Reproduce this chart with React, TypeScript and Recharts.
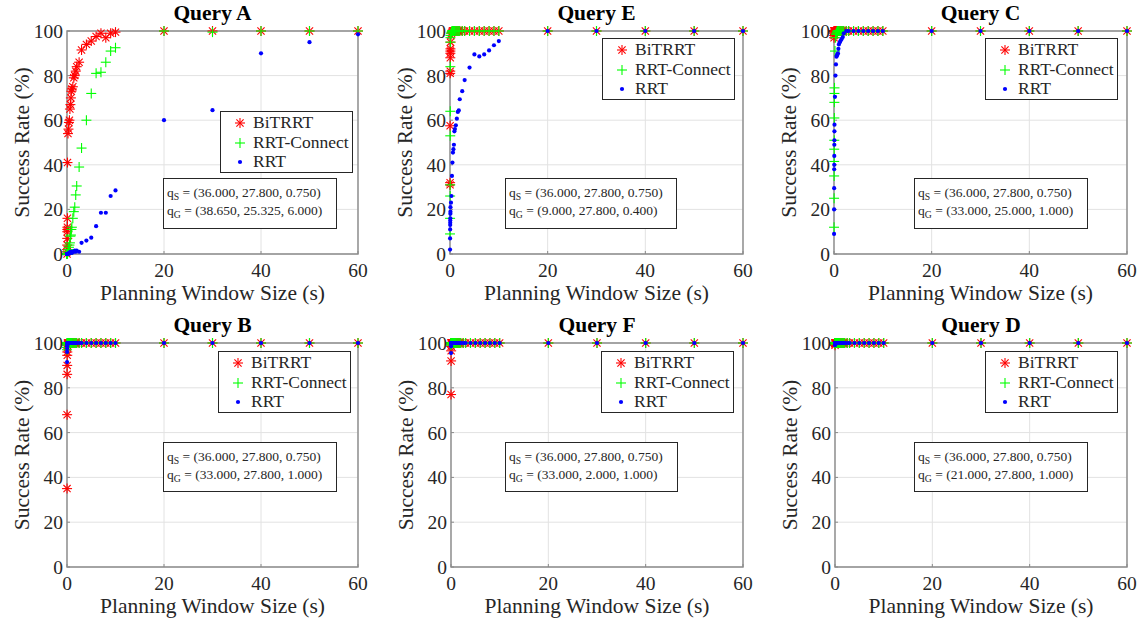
import React from 'react';
import { ScatterChart, Scatter, XAxis, YAxis, CartesianGrid, ReferenceArea, Legend } from 'recharts';

// ---------- data ----------
const windowSizes = [
  0.01, 0.02, 0.03, 0.04, 0.05, 0.06, 0.07, 0.08, 0.09,
  0.1, 0.2, 0.3, 0.4, 0.5, 0.6, 0.7, 0.8, 0.9, 1.0,
  1.2, 1.4, 1.6, 1.8, 2.0, 2.5,
  3, 4, 5, 6, 7, 8, 9, 10,
  20, 30, 40, 50, 60,
];
const xTicks = [0, 20, 40, 60];
const yTicks = [0, 20, 40, 60, 80, 100];
const seriesNames = ['BiTRRT', 'RRT-Connect', 'RRT'];
const startConfig = '(36.000, 27.800, 0.750)';

const queryA_BiTRRT = [0, 1, 2, 4, 7, 10, 11, 12, 16, 41, 54, 56, 59, 60, 65, 67, 70, 73, 74, 75, 79, 80, 82, 84, 86, 91.5, 94, 95.5, 97.5, 99, 97, 99, 99.5, 100, 100, 100, 100, 100];
const queryA_RRTConnect = [0, 0, 0, 0, 0, 0, 0, 0, 0, 0, 1, 2, 3, 4, 5, 8, 8.5, 11, 12, 16, 19, 21, 26.5, 30.5, 39, 47.5, 60, 72, 81, 81.5, 86, 91, 92.5, 100, 99.5, 100, 100, 100];
const queryA_RRT = [0, 0, 0, 0, 0, 0, 0, 0, 0, 0, 0, 0, 0.5, 0.5, 0.5, 1, 1, 1, 0.5, 1, 1, 1.5, 1, 1.5, 1, 5, 6, 7.3, 12.5, 18.5, 18.5, 26, 28.5, 60, 64.5, 90, 95, 98.5];

const queryE_BiTRRT = [31, 32, 57.5, 81, 82, 88, 90, 91, 92, 95, 98, 99, 99.5, 100, 100, 100, 100, 100, 100, 100, 100, 100, 100, 100, 100, 100, 100, 100, 100, 100, 100, 100, 100, 100, 100, 100, 100, 100];
const queryE_RRTConnect = [9, 16, 26, 31, 53, 64, 84, 95, 97, 98, 99, 99.5, 100, 100, 100, 100, 100, 100, 100, 100, 100, 100, 100, 100, 100, 100, 100, 100, 100, 100, 100, 100, 100, 100, 100, 100, 100, 100];
const queryE_RRT = [2, 7, 11, 13, 14, 15, 16, 18, 19, 21, 23, 26, 35, 41, 45.5, 47, 49, 55, 56, 57.7, 60.7, 63.7, 64.4, 69.4, 73, 78, 83.6, 89.5, 88.6, 89.5, 91.3, 93.6, 95.5, 100, 100, 100, 100, 100];

const queryC_BiTRRT = [97, 98, 99, 99.5, 100, 100, 100, 100, 100, 100, 100, 100, 100, 100, 100, 100, 100, 100, 100, 100, 100, 100, 100, 100, 100, 100, 100, 100, 100, 100, 100, 100, 100, 100, 100, 100, 100, 100];
const queryC_RRTConnect = [12, 25, 35, 41.5, 47, 51, 61, 68, 72, 74.5, 91, 97, 98.5, 99, 99.5, 100, 100, 100, 100, 100, 100, 100, 100, 100, 100, 100, 100, 100, 100, 100, 100, 100, 100, 100, 100, 100, 100, 100];
const queryC_RRT = [9, 20, 29.5, 38, 40, 44, 49, 51, 55, 58, 70.5, 80, 85, 88.5, 89, 89.5, 90, 92, 94, 95, 95.8, 96.5, 97.3, 99, 100, 100, 100, 100, 100, 100, 100, 100, 100, 100, 100, 100, 100, 100];

const queryB_BiTRRT = [35, 68, 86, 90, 94.5, 96, 98, 99, 99.5, 100, 100, 100, 100, 100, 100, 100, 100, 100, 100, 100, 100, 100, 100, 100, 100, 100, 100, 100, 100, 100, 100, 100, 100, 100, 100, 100, 100, 100];
const queryB_RRTConnect = [97, 98, 99, 99.5, 100, 100, 100, 100, 100, 100, 100, 100, 100, 100, 100, 100, 100, 100, 100, 100, 100, 100, 100, 100, 100, 100, 100, 100, 100, 100, 100, 100, 100, 100, 100, 100, 100, 100];
const queryB_RRT = [91.5, 96, 97.5, 98.5, 99, 99.5, 100, 100, 100, 100, 100, 100, 100, 100, 100, 100, 100, 100, 100, 100, 100, 100, 100, 100, 100, 100, 100, 100, 100, 100, 100, 100, 100, 100, 100, 100, 100, 100];

const queryF_BiTRRT = [77, 92, 96.5, 98.5, 99.5, 100, 100, 100, 100, 100, 100, 100, 100, 100, 100, 100, 100, 100, 100, 100, 100, 100, 100, 100, 100, 100, 100, 100, 100, 100, 100, 100, 100, 100, 100, 100, 100, 100];
const queryF_RRTConnect = [99, 99.5, 100, 100, 100, 100, 100, 100, 100, 100, 100, 100, 100, 100, 100, 100, 100, 100, 100, 100, 100, 100, 100, 100, 100, 100, 100, 100, 100, 100, 100, 100, 100, 100, 100, 100, 100, 100];
const queryF_RRT = [95.5, 98.5, 99.5, 100, 100, 100, 100, 100, 100, 100, 100, 100, 100, 100, 100, 100, 100, 100, 100, 100, 100, 100, 100, 100, 100, 100, 100, 100, 100, 100, 100, 100, 100, 100, 100, 100, 100, 100];

const queryD_BiTRRT = [99, 99.5, 100, 100, 100, 100, 100, 100, 100, 100, 100, 100, 100, 100, 100, 100, 100, 100, 100, 100, 100, 100, 100, 100, 100, 100, 100, 100, 100, 100, 100, 100, 100, 100, 100, 100, 100, 100];
const queryD_RRTConnect = [99.5, 100, 100, 100, 100, 100, 100, 100, 100, 100, 100, 100, 100, 100, 100, 100, 100, 100, 100, 100, 100, 100, 100, 100, 100, 100, 100, 100, 100, 100, 100, 100, 100, 100, 100, 100, 100, 100];
const queryD_RRT = [99, 99.5, 100, 100, 100, 100, 100, 100, 100, 100, 100, 100, 100, 100, 100, 100, 100, 100, 100, 100, 100, 100, 100, 100, 100, 100, 100, 100, 100, 100, 100, 100, 100, 100, 100, 100, 100, 100];

// ---------- layout / style ----------
const FONT = "'Liberation Serif', 'Times New Roman', serif";
const TEXT = '#262626';
const BOX = '#8a8a8a';
const GRID = '#e2e2e2';
const RED = '#ff0000';
const GREEN = '#00ff00';
const BLUE = '#0000ff';
const PAD_L = 70;
const PAD_T = 31;

const panels = [
  { title: 'Query A', goal: '(38.650, 25.325, 6.000)', plot: { x: 67, y: 31, w: 291, h: 223 }, legend: { x: 153, y: 80 }, note: { x: 96, y: 147, w: 174, h: 51 }, series: [queryA_BiTRRT, queryA_RRTConnect, queryA_RRT] },
  { title: 'Query E', goal: '(9.000, 27.800, 0.400)', plot: { x: 450, y: 31, w: 293, h: 223 }, legend: { x: 152, y: 7 }, note: { x: 55, y: 147, w: 172, h: 51 }, series: [queryE_BiTRRT, queryE_RRTConnect, queryE_RRT] },
  { title: 'Query C', goal: '(33.000, 25.000, 1.000)', plot: { x: 834, y: 31, w: 293, h: 223 }, legend: { x: 151, y: 7 }, note: { x: 80, y: 147, w: 174, h: 51 }, series: [queryC_BiTRRT, queryC_RRTConnect, queryC_RRT] },
  { title: 'Query B', goal: '(33.000, 27.800, 1.000)', plot: { x: 67, y: 343, w: 291, h: 224 }, legend: { x: 151, y: 8 }, note: { x: 96, y: 99, w: 174, h: 50 }, series: [queryB_BiTRRT, queryB_RRTConnect, queryB_RRT] },
  { title: 'Query F', goal: '(33.000, 2.000, 1.000)', plot: { x: 451, y: 343, w: 292, h: 224 }, legend: { x: 150, y: 8 }, note: { x: 54, y: 99, w: 173, h: 50 }, series: [queryF_BiTRRT, queryF_RRTConnect, queryF_RRT] },
  { title: 'Query D', goal: '(21.000, 27.800, 1.000)', plot: { x: 835, y: 343, w: 292, h: 224 }, legend: { x: 150, y: 8 }, note: { x: 79, y: 99, w: 174, h: 50 }, series: [queryD_BiTRRT, queryD_RRTConnect, queryD_RRT] },
];

// ---------- markers ----------
const Asterisk = (props: any) => {
  const { cx, cy } = props;
  if (cx == null || cy == null) return <g />;
  const r = 5;
  const d = r * 0.72;
  return (
    <g stroke={RED} strokeWidth={1.1}>
      <line x1={cx - r} y1={cy} x2={cx + r} y2={cy} />
      <line x1={cx} y1={cy - r} x2={cx} y2={cy + r} />
      <line x1={cx - d} y1={cy - d} x2={cx + d} y2={cy + d} />
      <line x1={cx - d} y1={cy + d} x2={cx + d} y2={cy - d} />
    </g>
  );
};
const Plus = (props: any) => {
  const { cx, cy } = props;
  if (cx == null || cy == null) return <g />;
  const r = 5;
  return (
    <g stroke={GREEN} strokeWidth={1.1}>
      <line x1={cx - r} y1={cy} x2={cx + r} y2={cy} />
      <line x1={cx} y1={cy - r} x2={cx} y2={cy + r} />
    </g>
  );
};
const Dot = (props: any) => {
  const { cx, cy } = props;
  if (cx == null || cy == null) return <g />;
  return <circle cx={cx} cy={cy} r={2.1} fill={BLUE} />;
};
const markerShapes = [Asterisk, Plus, Dot];

const LegendBox = () => (
  <div style={{ position: 'relative', width: 133, height: 62, border: `1px solid ${TEXT}`, background: '#fff', boxSizing: 'border-box', fontFamily: FONT }}>
    {seriesNames.map((name, i) => {
      const Shape = markerShapes[i];
      const cy = 12 + i * 19.5;
      return (
        <div key={name} style={{ position: 'absolute', left: 0, top: cy - 10.75, height: 19.5, width: 133 }}>
          <svg width={14} height={14} style={{ position: 'absolute', left: 12, top: 2.75 }}>
            <Shape cx={7} cy={7} />
          </svg>
          <span style={{ position: 'absolute', left: 32, top: 0, lineHeight: '19.5px', fontSize: 17.5, color: TEXT, whiteSpace: 'nowrap', fontFamily: FONT }}>{name}</span>
        </div>
      );
    })}
  </div>
);

const NoteBox = ({ goal, note }: any) => {
  const sub = { fontSize: '0.72em', position: 'relative' as const, top: '0.32em' };
  return (
    <div style={{ position: 'absolute', left: PAD_L + note.x, top: PAD_T + note.y, width: note.w, height: note.h, border: `1px solid ${TEXT}`, background: '#fff', boxSizing: 'border-box', fontFamily: FONT, fontSize: 13.5, color: TEXT }}>
      <div style={{ position: 'absolute', left: 3, top: 6.5, lineHeight: '13.5px', whiteSpace: 'nowrap' }}>
        q<span style={sub}>S</span> = {startConfig}
      </div>
      <div style={{ position: 'absolute', left: 3, top: 25, lineHeight: '13.5px', whiteSpace: 'nowrap' }}>
        q<span style={sub}>G</span> = {goal}
      </div>
    </div>
  );
};

const Panel = ({ cfg }: any) => {
  const { plot } = cfg;
  const width = plot.w + PAD_L + 10;
  const height = plot.h + PAD_T + 54;
  const seriesData = cfg.series.map((ys: number[]) => windowSizes.map((x, i) => ({ x, y: ys[i] })));
  const tickStyle = { fontSize: 19.5, fill: TEXT, fontFamily: FONT };
  return (
    <div style={{ position: 'absolute', left: plot.x - PAD_L, top: plot.y - PAD_T, width, height }}>
      <ScatterChart width={width} height={height} margin={{ top: PAD_T, right: 10, bottom: 4, left: 10 }}>
        <CartesianGrid stroke={GRID} strokeWidth={1} />
        <XAxis
          type="number" dataKey="x" domain={[0, 60]} ticks={xTicks} interval={0}
          axisLine={false} tickLine={{ stroke: BOX }} tickSize={-3} tickMargin={12}
          tick={tickStyle} height={50}
          label={{ value: 'Planning Window Size (s)', position: 'insideBottom', offset: 4, style: { fontSize: 21.5, fill: TEXT, fontFamily: FONT } }}
        />
        <YAxis
          type="number" dataKey="y" domain={[0, 100]} ticks={yTicks} interval={0}
          axisLine={false} tickLine={{ stroke: BOX }} tickSize={-3} tickMargin={7}
          tick={tickStyle} width={60}
          label={{ value: 'Success Rate (%)', angle: -90, position: 'insideLeft', offset: 14, style: { textAnchor: 'middle', fontSize: 21.5, fill: TEXT, fontFamily: FONT } }}
        />
        <ReferenceArea x1={0} x2={60} y1={0} y2={100} fill="none" fillOpacity={0} stroke={BOX} strokeWidth={1.4} ifOverflow="visible" />
        {seriesNames.map((name, i) => (
          <Scatter key={name} name={name} data={seriesData[i]} shape={markerShapes[i]} isAnimationActive={false} fill={[RED, GREEN, BLUE][i]} />
        ))}
        <Legend
          layout="horizontal" verticalAlign="middle" align="center"
          content={() => <LegendBox />}
          wrapperStyle={{ left: PAD_L + cfg.legend.x, top: PAD_T + cfg.legend.y, width: 133, height: 62, margin: 0, padding: 0 }}
        />
      </ScatterChart>
      <div style={{ position: 'absolute', left: PAD_L, top: PAD_T - 28, width: plot.w, textAlign: 'center', fontFamily: FONT, fontWeight: 'bold', fontSize: 21.5, lineHeight: '21.5px', color: '#000' }}>
        {cfg.title}
      </div>
      <NoteBox goal={cfg.goal} note={cfg.note} />
    </div>
  );
}

export default function App() {
  return (
    <div style={{ position: 'absolute', left: 0, top: 0, width: 1144, height: 621, background: '#fff', overflow: 'hidden' }}>
      {panels.map((p) => (
        <Panel key={p.title} cfg={p} />
      ))}
    </div>
  );
}
